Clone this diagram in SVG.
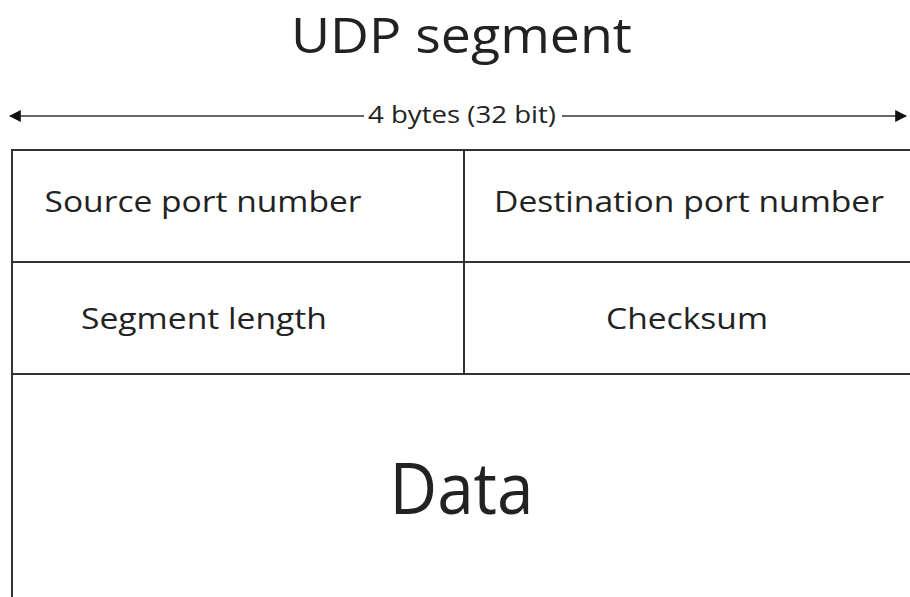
<svg xmlns="http://www.w3.org/2000/svg" width="910" height="597" viewBox="0 0 910 597">
<defs>
<style>
text{font-family:"Open Sans","DejaVu Sans",sans-serif;fill:#222;text-anchor:middle}
.ln{stroke:#333;stroke-width:2;fill:none}
.lbl{font-size:29.5px}
</style>
<marker id="ah" viewBox="0 0 10 10" refX="9" refY="5" markerWidth="6" markerHeight="6" orient="auto-start-reverse"><path d="M0,0 L10,5 L0,10 z" fill="#111"/></marker>
</defs>
<rect width="910" height="597" fill="#fff"/>
<g id="title"><text x="461.5" y="53" font-size="49.5" textLength="341" lengthAdjust="spacingAndGlyphs">UDP segment</text></g>
<g id="connectors">
<line x1="10" y1="116" x2="364" y2="116" stroke="#666" stroke-width="2" marker-start="url(#ah)"/>
<line x1="562" y1="116" x2="906" y2="116" stroke="#666" stroke-width="2" marker-end="url(#ah)"/>
</g>
<g id="width-label"><text x="462" y="123" font-size="23" textLength="188" lengthAdjust="spacingAndGlyphs">4 bytes (32 bit)</text></g>
<g id="frame">
<path class="ln" d="M12,597 V150 H912"/>
<path class="ln" d="M12,262 H912 M12,374 H912 M464,150 V374"/>
</g>
<g id="source-port"><text class="lbl" x="203" y="212" textLength="317" lengthAdjust="spacingAndGlyphs">Source port number</text></g>
<g id="dest-port"><text class="lbl" x="689" y="212" textLength="390" lengthAdjust="spacingAndGlyphs">Destination port number</text></g>
<g id="seg-length"><text class="lbl" x="204" y="329" textLength="246" lengthAdjust="spacingAndGlyphs">Segment length</text></g>
<g id="checksum"><text class="lbl" x="687" y="329" textLength="162" lengthAdjust="spacingAndGlyphs">Checksum</text></g>
<g id="data"><text x="461.5" y="514" font-size="71" textLength="144" lengthAdjust="spacingAndGlyphs">Data</text></g>
</svg>
